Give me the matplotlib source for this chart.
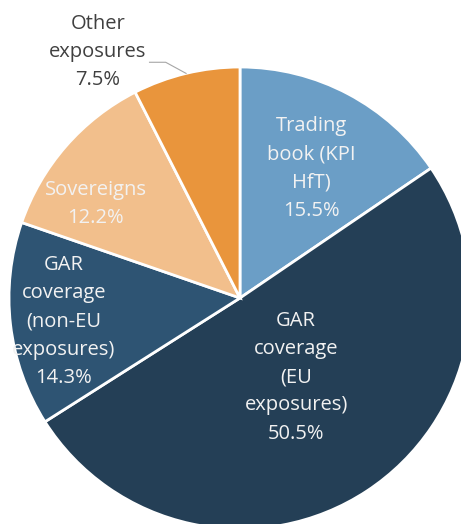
import numpy as np
import matplotlib
matplotlib.use("Agg")
import matplotlib.pyplot as plt

labels = ["Trading\nbook (KPI\nHfT)", "GAR\ncoverage\n(EU\nexposures)", "GAR\ncoverage\n(non-EU\nexposures)", "Sovereigns", "Other\nexposures"]
values = [15.5, 50.5, 14.3, 12.2, 7.5]
colors = ["#6b9ec6", "#243f56", "#2e5473", "#f2bf8c", "#e9953c"]

# label placement (radius, angle offset in degrees) per slice
label_r = [0.64, 0.42, 0.77, 0.745, 1.23]
label_dang = [-1.0, 2.0, 1.0, 8.0, 16.5]
inside = [True, True, True, True, False]

W, H = 461, 524
cx, cy, R = 240, 298, 231
fig = plt.figure(figsize=(W / 100, H / 100), dpi=100)
ax = fig.add_axes([0, 0, 1, 1])

wedges, _ = ax.pie(values, colors=colors, startangle=90, counterclock=False,
                   radius=1.0, center=(0, 0), frame=True,
                   wedgeprops=dict(edgecolor="white", linewidth=2.0))
ax.set_xlim(-cx / R, (W - cx) / R)
ax.set_ylim(-(H - cy) / R, cy / R)
ax.axis("off")

font = "Open Sans"
fs = 14.5
for w, lab, v, r, da, ins in zip(wedges, labels, values, label_r, label_dang, inside):
    mid = (w.theta1 + w.theta2) / 2 + da
    x, y = r * np.cos(np.radians(mid)), r * np.sin(np.radians(mid))
    txt = f"{lab}\n{v:.1f}%"
    if ins:
        ax.text(x, y, txt, ha="center", va="center", color="#f2f2f2",
                fontsize=fs, family=font, linespacing=1.55)
    else:
        ax.text(x, y, txt, ha="center", va="center", color="#404040",
                fontsize=fs, family=font, linespacing=1.55)
        amid = np.radians((w.theta1 + w.theta2) / 2)
        p0 = (np.cos(amid), np.sin(amid))
        p1 = (1.07 * np.cos(np.radians(107.5)), 1.07 * np.sin(np.radians(107.5)))
        p2 = (p1[0] - 0.07, p1[1])
        ax.plot([p0[0], p1[0], p2[0]], [p0[1], p1[1], p2[1]], color="#a6a6a6", lw=0.8)

fig.savefig("out.png", dpi=100)
